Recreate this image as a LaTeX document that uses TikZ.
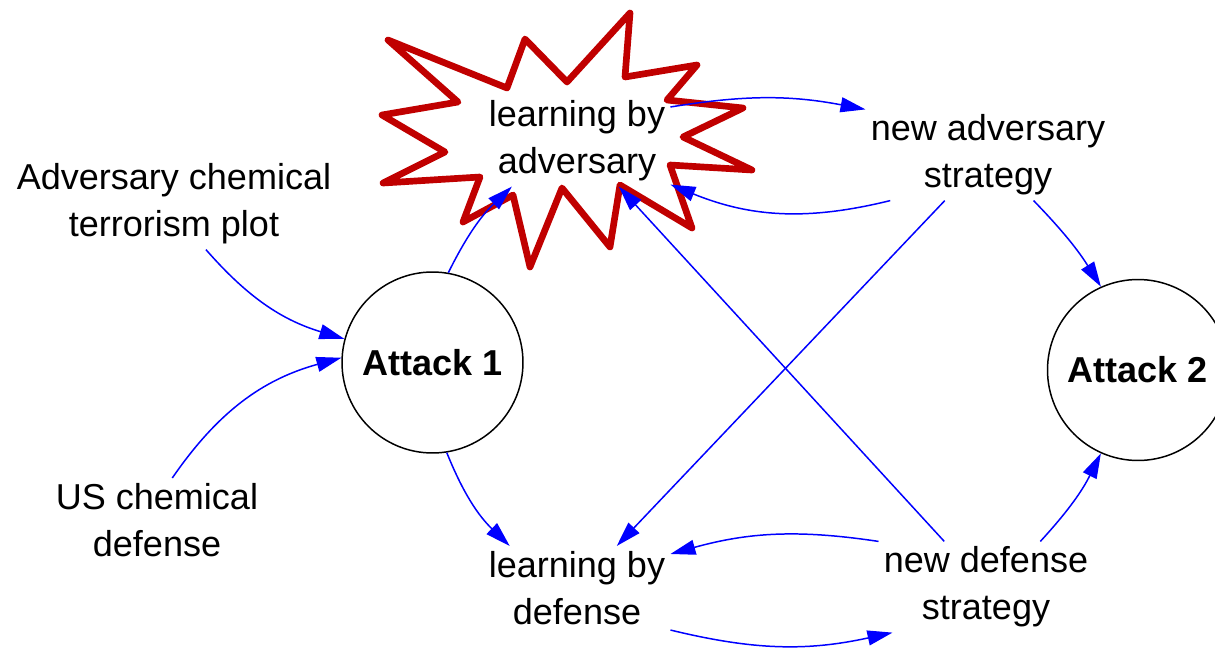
\documentclass[tikz,border=0pt]{standalone}
\usepackage{xcolor}
\usepackage{fontspec}
\setmainfont{Liberation Sans}
\definecolor{burstred}{RGB}{192,0,0}
\usepackage{tikz}
\usetikzlibrary{arrows.meta, positioning}

\begin{document}
\begin{tikzpicture}[x=0.02cm, y=-0.02cm,
    every node/.style={font=\fontsize{20.5}{26.7}\selectfont},
    txt/.style={align=center, inner sep=0.1cm},
    attack/.style={circle, draw, line width=0.85pt, minimum size=3.62cm, inner sep=0pt,
        font=\fontsize{20.5}{26.7}\selectfont\bfseries},
    link/.style={blue, line width=0.85pt, -{Triangle[length=0.5cm, width=0.3cm]}},
    burst/.style={draw=burstred, line width=3.8pt, line join=round}]
    \useasboundingbox (0,0) rectangle (1215,650);
    % Starburst behind the adversary learning
    \draw[burst] (388,40) -- (507,88) -- (525,39) -- (567,82) -- (630,13) -- (625,77)
        -- (697,65) -- (667,100) -- (743,108) -- (683,137) -- (752,170) -- (670,165)
        -- (692,228) -- (620,185) -- (610,247) -- (562,188) -- (530,267) -- (513,195)
        -- (463,222) -- (480,177) -- (383,183) -- (445,152) -- (382,115) -- (458,102) -- cycle;
    % Nodes
    \node[txt] (plot) at (174,204) {Adversary chemical\\terrorism plot};
    \node[txt] (usdef) at (157,520) {US chemical\\defense};
    \node[attack] (att1) at (432.5,362.5) {Attack 1};
    \node[attack] (att2) at (1138,370) {Attack 2};
    \node[txt] (ladv) at (577,141) {learning by\\adversary};
    \node[txt] (nadv) at (988,155) {new adversary\\strategy};
    \node[txt] (ldef) at (577,588) {learning by\\defense};
    \node[txt] (ndef) at (986,587) {new defense\\strategy};
    % Inputs to the first attack
    \draw[link] (plot.-55) to[bend right=16] (att1.165);
    \draw[link] (usdef.70) to[bend left=20] (att1.177);
    % Learning after attack 1
    \draw[link] (att1.80) to[bend left=10] (ladv.-145);
    \draw[link] (att1.-81) to[bend right=12] (ldef.148);
    % Adversary loop
    \draw[link] (ladv.20) to[bend left=10] (nadv.north west);
    \draw[link] (nadv.-155) to[bend left=18] (ladv.-25);
    % Defense loop
    \draw[link] (ndef.north west) to[bend right=12] (ldef.20);
    \draw[link] (ldef.south east) to[bend right=13] (ndef.-154);
    % Cross links
    \draw[link] (nadv) -- (ldef);
    \draw[link] (ndef) -- (ladv);
    % To the second attack
    \draw[link] (nadv.-45) to[bend left=6] (att2.114);
    \draw[link] (ndef.40) to[bend right=8] (att2.-114);
\end{tikzpicture}
\end{document}
